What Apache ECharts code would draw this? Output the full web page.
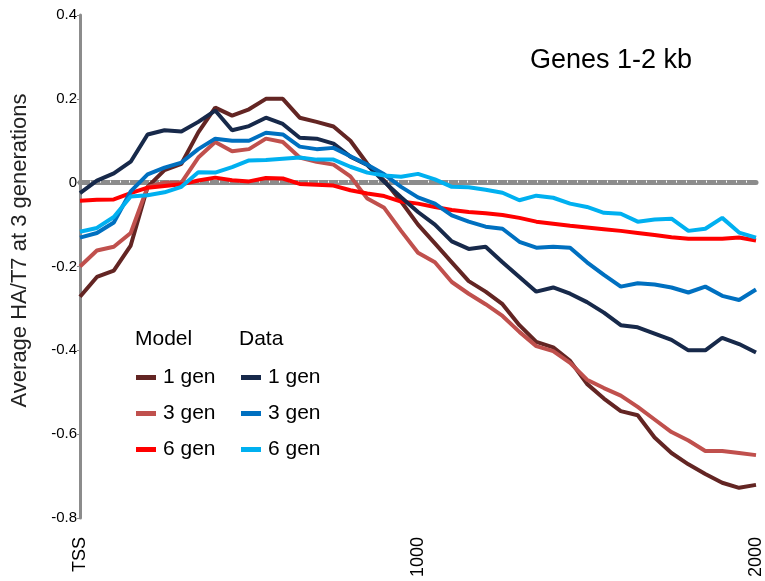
<!DOCTYPE html>
<html lang="en">
<head>
    <meta charset="UTF-8">
    <title>Genes 1-2 kb</title>
    <style>
        body, html {
            margin: 0;
            width: 100%;
            height: 100%;
            background: #fff;
        }
        #container {
            width: 765px;
            height: 581px;
        }
    </style>
    <script src="https://cdn.jsdelivr.net/npm/echarts@6/dist/echarts.min.js"></script>
</head>
<body>
<div id="container"></div>
<script type="text/javascript">
    // distance from TSS, every 50 bp
    var positions = [];
    for (var i = 0; i <= 40; i++) positions.push(i * 50);

    var model1 = [-0.272, -0.225, -0.21, -0.15, -0.01, 0.03, 0.045, 0.12, 0.179, 0.16, 0.175,
        0.2, 0.2, 0.155, 0.145, 0.134, 0.1, 0.045, 0.005, -0.045, -0.1,
        -0.145, -0.19, -0.235, -0.26, -0.29, -0.34, -0.38, -0.393, -0.425, -0.48,
        -0.515, -0.545, -0.555, -0.608, -0.645, -0.672, -0.695, -0.716, -0.728, -0.721];
    var model3 = [-0.2, -0.162, -0.153, -0.12, -0.01, 0.0, 0.0, 0.06, 0.097, 0.075, 0.08,
        0.105, 0.097, 0.06, 0.05, 0.043, 0.015, -0.038, -0.06, -0.115, -0.167,
        -0.19, -0.237, -0.265, -0.29, -0.318, -0.356, -0.39, -0.402, -0.43, -0.47,
        -0.49, -0.508, -0.535, -0.565, -0.595, -0.615, -0.64, -0.64, -0.645, -0.65];
    var model6 = [-0.043, -0.041, -0.04, -0.025, -0.012, -0.008, -0.004, 0.005, 0.012, 0.006, 0.003,
        0.011, 0.01, -0.003, -0.005, -0.007, -0.018, -0.026, -0.032, -0.045, -0.05,
        -0.058, -0.065, -0.07, -0.073, -0.077, -0.084, -0.093, -0.098, -0.103, -0.107,
        -0.111, -0.115, -0.12, -0.125, -0.13, -0.134, -0.134, -0.134, -0.131, -0.138];
    var data1 = [-0.025, 0.005, 0.022, 0.05, 0.115, 0.125, 0.122, 0.145, 0.172, 0.125, 0.135,
        0.155, 0.14, 0.107, 0.105, 0.093, 0.062, 0.042, 0.002, -0.035, -0.07,
        -0.1, -0.14, -0.158, -0.153, -0.19, -0.225, -0.26, -0.25, -0.265, -0.285,
        -0.31, -0.34, -0.345, -0.36, -0.375, -0.4, -0.4, -0.37, -0.385, -0.405];
    var data3 = [-0.131, -0.12, -0.095, -0.021, 0.02, 0.036, 0.048, 0.08, 0.105, 0.1, 0.1,
        0.119, 0.115, 0.086, 0.08, 0.083, 0.063, 0.043, 0.02, -0.01, -0.035,
        -0.05, -0.078, -0.093, -0.105, -0.11, -0.141, -0.155, -0.153, -0.155, -0.19,
        -0.22, -0.248, -0.24, -0.243, -0.25, -0.262, -0.248, -0.27, -0.28, -0.255];
    var data6 = [-0.117, -0.108, -0.082, -0.033, -0.03, -0.023, -0.01, 0.025, 0.024, 0.037, 0.053,
        0.054, 0.057, 0.06, 0.055, 0.055, 0.038, 0.024, 0.017, 0.014, 0.021,
        0.008, -0.01, -0.011, -0.017, -0.024, -0.042, -0.031, -0.036, -0.05, -0.058,
        -0.072, -0.074, -0.093, -0.088, -0.086, -0.115, -0.11, -0.084, -0.119, -0.131];

    var xTicks = {0: 'TSS', 1000: '1000', 2000: '2000'};

    var font = 'Liberation Sans, Arial, sans-serif';
    var dom = document.getElementById("container");
    var myChart = echarts.init(dom);

    function pairs(arr) {
        return arr.map(function (v, i) { return [positions[i], v]; });
    }
    function line(name, values, color) {
        return {
            name: name, type: 'line', data: pairs(values), xAxisIndex: 0,
            showSymbol: false, symbol: 'none', color: color,
            lineStyle: {width: 4, color: color}, itemStyle: {color: color}
        };
    }
    function legendBox(names, left) {
        return {
            data: names,
            orient: 'vertical', left: left, top: 362, icon: 'rect',
            itemWidth: 20, itemHeight: 5, itemGap: 15,
            textStyle: {fontSize: 21, color: '#000', padding: [0, 0, 0, 2]},
            formatter: function (n) { return n.replace(/^\S+ /, ''); }
        };
    }

    var option = {
        animation: false,
        textStyle: {fontFamily: font},
        grid: {left: 80, right: 8, top: 15, bottom: 63, containLabel: false},
        graphic: [
            {type: 'text', left: 530, top: 47, style: {text: 'Genes 1-2 kb', font: '27px ' + font, fill: '#000'}},
            {type: 'text', left: 135, top: 329, style: {text: 'Model', font: '21px ' + font, fill: '#000'}},
            {type: 'text', left: 239, top: 329, style: {text: 'Data', font: '21px ' + font, fill: '#000'}}
        ],
        legend: [
            legendBox(['Model 1 gen', 'Model 3 gen', 'Model 6 gen'], 131),
            legendBox(['Data 1 gen', 'Data 3 gen', 'Data 6 gen'], 236)
        ],
        xAxis: [{
            type: 'value', min: 0, max: 2000, interval: 1000, position: 'bottom',
            axisLine: {show: false, onZero: false},
            axisTick: {show: false},
            splitLine: {show: false},
            axisLabel: {
                rotate: 90, margin: 19, fontSize: 18, color: '#000',
                formatter: function (v) { return xTicks[v] || ''; }
            }
        }, {
            type: 'value', min: 0, max: 2000, interval: 1000, position: 'top',
            axisLine: {show: true, onZero: true, lineStyle: {color: '#8c8c8c', width: 5}},
            axisTick: {show: false},
            minorTick: {show: true, splitNumber: 34, length: 2, lineStyle: {color: '#ffffff', width: 1}},
            splitLine: {show: false},
            axisLabel: {show: false}
        }],
        yAxis: {
            type: 'value', min: -0.8, max: 0.4, interval: 0.2,
            name: 'Average HA/T7 at 3 generations',
            nameLocation: 'middle', nameGap: 49,
            nameTextStyle: {fontSize: 22, color: '#222', padding: [0, 0, 0, 32]},
            axisLine: {show: true, lineStyle: {color: '#8c8c8c', width: 3}},
            axisTick: {show: true, length: 3, lineStyle: {color: '#8c8c8c'}},
            splitLine: {show: false},
            axisLabel: {
                fontSize: 15, color: '#000', margin: 3,
                formatter: function (v) { return String(Math.round(v * 10) / 10); }
            }
        },
        series: [
            line('Model 1 gen', model1, '#632523'),
            line('Model 3 gen', model3, '#c0504d'),
            line('Model 6 gen', model6, '#ff0000'),
            line('Data 1 gen', data1, '#17294a'),
            line('Data 3 gen', data3, '#0070c0'),
            line('Data 6 gen', data6, '#00b0f0')
        ]
    };
    myChart.setOption(option);
</script>
</body>
</html>
